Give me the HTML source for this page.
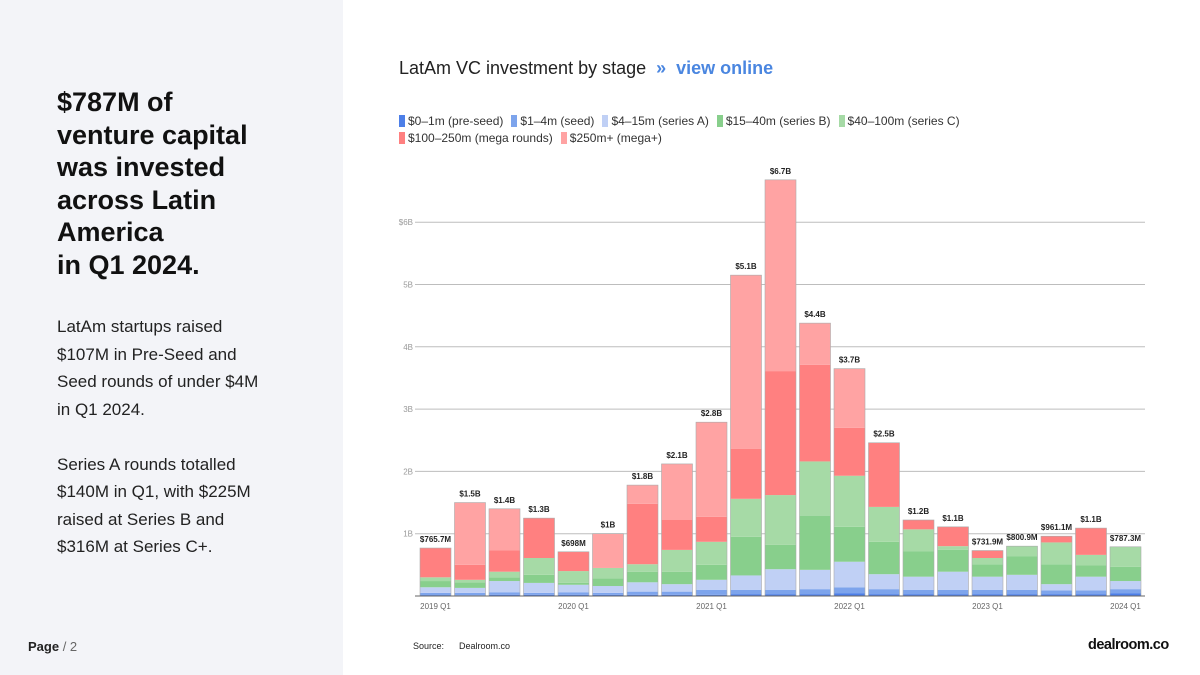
<!DOCTYPE html>
<html><head><meta charset="utf-8"><style>
body{margin:0;width:1200px;height:675px;background:#fff;font-family:"Liberation Sans",sans-serif;position:relative;overflow:hidden}
#left{position:absolute;left:0;top:0;width:343px;height:675px;background:#f3f4f8}
h1{position:absolute;left:57px;top:86px;margin:0;font-size:27px;line-height:32.5px;font-weight:bold;color:#111}
.body{position:absolute;left:57px;top:313px;font-size:17px;line-height:27.5px;color:#222}
#page{position:absolute;left:28px;top:639px;font-size:13px;color:#222}
#title{position:absolute;left:399px;top:58px;font-size:18px;color:#222}
#title b{color:#4a86e0}
#legend{position:absolute;left:399px;top:113px;width:620px;font-size:12px;color:#333;line-height:17px}
.li{display:inline-block;margin-right:8px}
.sw{display:inline-block;width:6px;height:12px;vertical-align:-2px;margin-right:3px}
#src{position:absolute;left:413px;top:641px;font-size:9px;color:#222}
#logo{position:absolute;left:1088px;top:637px;font-size:14.5px;font-weight:bold;color:#111;letter-spacing:-0.5px}
</style></head><body>
<div id="left"></div>
<h1>$787M of<br>venture capital<br>was invested<br>across Latin<br>America<br>in Q1 2024.</h1>
<div class="body">LatAm startups raised<br>$107M in Pre-Seed and<br>Seed rounds of under $4M<br>in Q1 2024.<br><br>Series A rounds totalled<br>$140M in Q1, with $225M<br>raised at Series B and<br>$316M at Series C+.</div>
<div id="page"><b>Page</b> <span style="color:#666">/ 2</span></div>
<div id="title">LatAm VC investment by stage <b>&nbsp;» &nbsp;view online</b></div>
<div id="legend"></div>
<svg id="chart" width="1200" height="675" style="position:absolute;left:0;top:0"></svg>
<div id="src">Source: &nbsp;&nbsp;&nbsp;&nbsp;&nbsp;Dealroom.co</div>
<div id="logo">dealroom.co</div>
<script>
const quarters=["2019 Q1","2019 Q2","2019 Q3","2019 Q4","2020 Q1","2020 Q2","2020 Q3","2020 Q4","2021 Q1","2021 Q2","2021 Q3","2021 Q4","2022 Q1","2022 Q2","2022 Q3","2022 Q4","2023 Q1","2023 Q2","2023 Q3","2023 Q4","2024 Q1"];
const seriesNames=["$0–1m (pre-seed)","$1–4m (seed)","$4–15m (series A)","$15–40m (series B)","$40–100m (series C)","$100–250m (mega rounds)","$250m+ (mega+)"];
const colors=["#4d7fe8","#7da4ec","#c0d0f5","#88cf8c","#a6daa6","#ff8080","#ffa3a3"];
const preSeed=[.015,.01,.02,.02,.02,.02,.02,.02,.02,.03,.03,.03,.04,.03,.03,.03,.03,.03,.03,.03,.04];
const seed=[.035,.04,.04,.03,.04,.03,.05,.05,.08,.07,.07,.08,.10,.08,.07,.07,.07,.07,.06,.06,.07];
const seriesA=[.09,.08,.18,.16,.12,.11,.15,.12,.16,.23,.33,.31,.41,.24,.21,.29,.21,.24,.10,.22,.13];
const seriesB=[.10,.09,.06,.13,.03,.12,.17,.20,.24,.62,.39,.87,.56,.52,.41,.35,.20,.30,.32,.18,.23];
const seriesC=[.06,.04,.09,.27,.19,.17,.12,.35,.37,.61,.80,.87,.82,.56,.35,.06,.10,.16,.35,.17,.32];
const mega=[.47,.24,.34,.64,.31,0,.97,.48,.40,.80,1.99,1.55,.77,1.03,.15,.31,.12,0,.10,.43,0];
const megaPlus=[0,1.0,.67,0,0,.55,.30,.9,1.52,2.79,3.07,.67,.95,0,0,0,0,0,0,0,0];
const totalLabels=["$765.7M","$1.5B","$1.4B","$1.3B","$698M","$1B","$1.8B","$2.1B","$2.8B","$5.1B","$6.7B","$4.4B","$3.7B","$2.5B","$1.2B","$1.1B","$731.9M","$800.9M","$961.1M","$1.1B","$787.3M"];
const yTicks=[1,2,3,4,5,6];
const yTickLabels=["1B","2B","3B","4B","5B","$6B"];
const xLabelIdx=[0,4,8,12,16,20];

const NS="http://www.w3.org/2000/svg";
const svg=document.getElementById('chart');
const x0=415,x1=1145,y0=596,pxPerB=62.3,step=34.5,bw=31;
const yS=v=>y0-v*pxPerB;
const xC=i=>435.5+i*step;
function mk(t,a){const e=document.createElementNS(NS,t);for(const k in a)e.setAttribute(k,a[k]);svg.appendChild(e);return e;}
yTicks.forEach((t,i)=>{
  const l=mk('line',{x1:x0,x2:x1,y1:yS(t),y2:yS(t),stroke:'#bdbdbd','stroke-width':1});
  
  
  const tx=mk('text',{x:413,y:yS(t)+3,'text-anchor':'end','font-size':8,fill:'#999'});
  tx.textContent=yTickLabels[i];
  
  
});
const series=[preSeed,seed,seriesA,seriesB,seriesC,mega,megaPlus];
quarters.forEach((q,i)=>{
  let acc=0;
  series.forEach((s,k)=>{
    const v=s[i];if(v<=0)return;
    const r=mk('rect',{x:xC(i)-bw/2,y:yS(acc+v),width:bw,height:v*pxPerB,fill:colors[k]});
    
    
    acc+=v;
  });
  const o=mk('rect',{x:xC(i)-bw/2,y:yS(acc),width:bw,height:acc*pxPerB,fill:'none',stroke:'#aaa','stroke-width':0.6});
  
  
  const t=mk('text',{x:xC(i),y:yS(acc)-6,'text-anchor':'middle','font-size':8,'font-weight':'bold',fill:'#222'});
  t.textContent=totalLabels[i];
  
  
});
const ax=mk('line',{x1:x0,x2:x1,y1:y0,y2:y0,stroke:'#666','stroke-width':1});


xLabelIdx.forEach(i=>{
  const t=mk('text',{x:xC(i),y:609,'text-anchor':'middle','font-size':8,fill:'#666'});
  t.textContent=quarters[i];
  
  
});
const lg=document.getElementById('legend');
seriesNames.forEach((n,k)=>{
  const s=document.createElement('span');s.className='li';
  
  
  s.innerHTML='<span class="sw" style="background:'+colors[k]+'"></span>'+n;
  lg.appendChild(s);
});
</script>
</body></html>
